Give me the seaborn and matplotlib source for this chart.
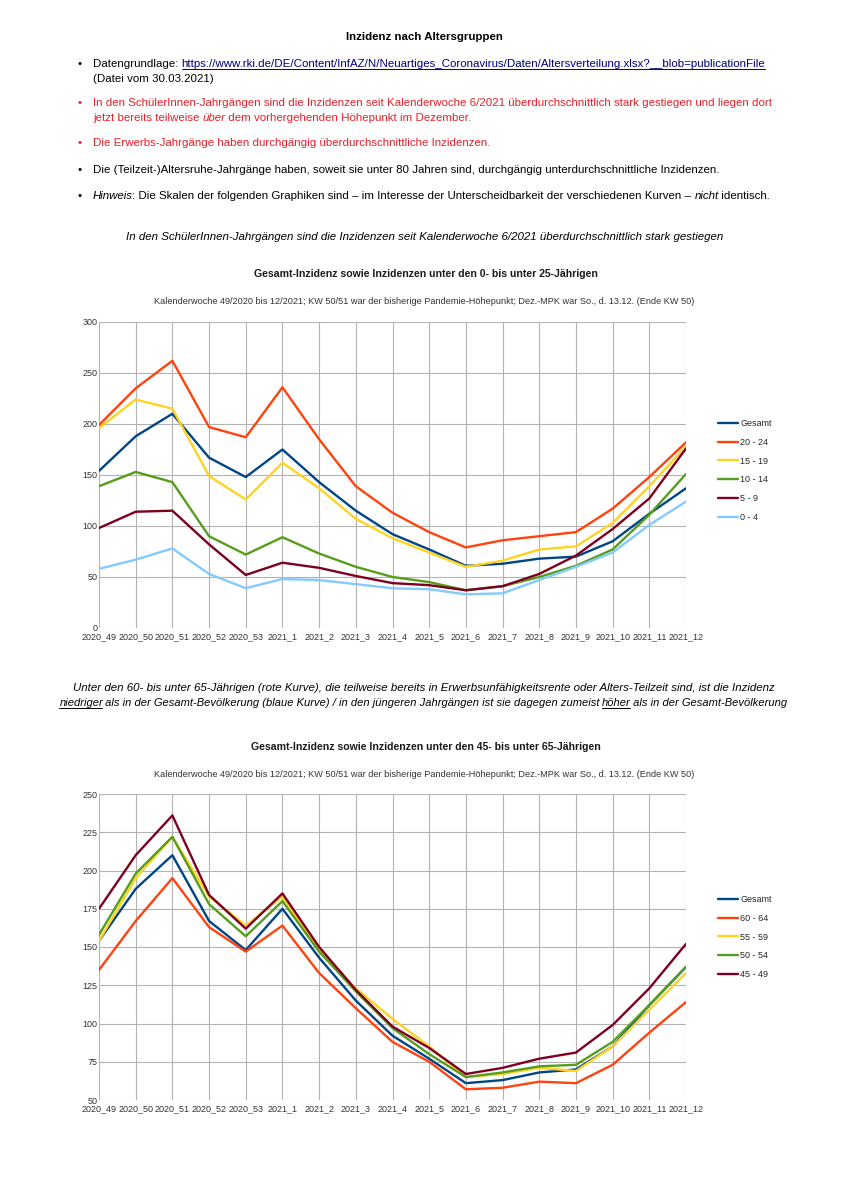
import numpy as np
import pandas as pd
import matplotlib
matplotlib.use('Agg')
import matplotlib.pyplot as plt
from matplotlib.lines import Line2D
import seaborn as sns

W, H = 848, 1199

weeks = ['2020_49', '2020_50', '2020_51', '2020_52', '2020_53', '2021_1', '2021_2',
         '2021_3', '2021_4', '2021_5', '2021_6', '2021_7', '2021_8', '2021_9',
         '2021_10', '2021_11', '2021_12']

# Gesamt-Inzidenz (same in both charts)
gesamt = [154, 188, 210, 167, 148, 175, 143, 115, 92, 77, 61, 63, 68, 70, 85, 112, 137]

# chart 1: 0 to under 25
age_20_24 = [199, 235, 262, 197, 187, 236, 185, 139, 113, 94, 79, 86, 90, 94, 117, 148, 182]
age_15_19 = [196, 224, 215, 149, 126, 162, 137, 107, 88, 74, 60, 66, 77, 80, 103, 139, 178]
age_10_14 = [139, 153, 143, 90, 72, 89, 73, 60, 50, 45, 37, 41, 50, 61, 77, 111, 151]
age_5_9 = [98, 114, 115, 82, 52, 64, 59, 51, 44, 42, 37, 41, 53, 71, 97, 127, 176]
age_0_4 = [58, 67, 78, 53, 39, 48, 47, 43, 39, 38, 33, 34, 47, 60, 74, 101, 124]

# chart 2: 45 to under 65
age_60_64 = [135, 167, 195, 163, 147, 164, 133, 110, 88, 75, 57, 58, 62, 61, 73, 94, 114]
age_55_59 = [154, 195, 222, 183, 164, 183, 148, 123, 103, 85, 65, 67, 71, 69, 85, 109, 133]
age_50_54 = [158, 198, 222, 178, 157, 180, 147, 121, 97, 80, 65, 68, 72, 73, 88, 112, 137]
age_45_49 = [175, 210, 236, 184, 162, 185, 150, 122, 98, 84, 67, 71, 77, 81, 99, 123, 152]

# LibreOffice default chart palette
C_BLUE, C_RED, C_YEL, C_GRN, C_MAR, C_LBL = '#004586', '#ff420e', '#ffd320', '#579d1c', '#7e0021', '#83caff'
TXT_RED = '#e8202a'
BODY = 8.28

sns.set_theme(style='whitegrid')
plt.rcParams['font.family'] = ['Liberation Sans', 'DejaVu Sans']

fig = plt.figure(figsize=(W / 100, H / 100), dpi=100)
fig.patch.set_facecolor('white')
renderer = fig.canvas.get_renderer()

_bar_cache = {}


def text_width(s, size, style, weight):
    # measure with sentinels so leading/trailing spaces count
    key = (size, style, weight)
    if key not in _bar_cache:
        t = fig.text(0, 0, '||', fontsize=size, style=style, weight=weight)
        _bar_cache[key] = t.get_window_extent(renderer).width
        t.remove()
    t = fig.text(0, 0, '|' + s + '|', fontsize=size, style=style, weight=weight)
    w = t.get_window_extent(renderer).width
    t.remove()
    w = w - _bar_cache[key]
    if style == 'italic':
        w -= 0.8
    return w


def write_line(x, y, segments, size=BODY, center=False, color='black'):
    """segments: list of (text, opts); y is the text centre in page pixels"""
    base = y + size * 0.5
    widths = []
    for s, o in segments:
        widths.append(text_width(s, size, o.get('style', 'normal'), o.get('weight', 'normal')))
    if center:
        x = x - sum(widths) / 2
    for (s, o), w in zip(segments, widths):
        col = o.get('color', color)
        fig.text(x / W, 1 - base / H, s, fontsize=size, color=col,
                 style=o.get('style', 'normal'), weight=o.get('weight', 'normal'),
                 ha='left', va='baseline')
        if o.get('underline'):
            uy = 1 - (base + 2.3) / H
            fig.add_artist(Line2D([x / W, (x + w) / W], [uy, uy], color=col, lw=0.7))
        x += w


def bullet(y, color='black'):
    fig.text(78 / W, 1 - (y + BODY * 0.5) / H, '•', fontsize=BODY, color=color, va='baseline')


N = {}
I = {'style': 'italic'}
R = {'color': TXT_RED}

write_line(424, 36, [('Inzidenz nach Altersgruppen', {'weight': 'bold'})], center=True)

bullet(63)
write_line(93, 63, [('Datengrundlage: ', N),
                    ('https://www.rki.de/DE/Content/InfAZ/N/Neuartiges_Coronavirus/Daten/Altersverteilung.xlsx?__blob=publicationFile',
                     {'color': '#000080', 'underline': True})])
write_line(93, 78, [('(Datei vom 30.03.2021)', N)])

bullet(102, TXT_RED)
write_line(93, 102, [('In den SchülerInnen-Jahrgängen sind die Inzidenzen seit Kalenderwoche 6/2021 '
                      'überdurchschnittlich stark gestiegen und liegen dort', R)])
write_line(93, 117, [('jetzt bereits teilweise ', R), ('über', {'color': TXT_RED, 'style': 'italic'}),
                     (' dem vorhergehenden Höhepunkt im Dezember.', R)])

bullet(142, TXT_RED)
write_line(93, 142, [('Die Erwerbs-Jahrgänge haben durchgängig überdurchschnittliche Inzidenzen.', R)])

bullet(169)
write_line(93, 169, [('Die (Teilzeit-)Altersruhe-Jahrgänge haben, soweit sie unter 80 Jahren sind, '
                      'durchgängig unterdurchschnittliche Inzidenzen.', N)])

bullet(195)
write_line(93, 195, [('Hinweis', I),
                     (': Die Skalen der folgenden Graphiken sind – im Interesse der Unterscheidbarkeit '
                      'der verschiedenen Kurven – ', N),
                     ('nicht', I), (' identisch.', N)])

write_line(424, 236, [('In den SchülerInnen-Jahrgängen sind die Inzidenzen seit Kalenderwoche 6/2021 '
                       'überdurchschnittlich stark gestiegen', I)], center=True)

write_line(423, 687, [('Unter den 60- bis unter 65-Jährigen (rote Kurve), die teilweise bereits in '
                       'Erwerbsunfähigkeitsrente oder Alters-Teilzeit sind, ist die Inzidenz', I)],
           size=8.28, center=True)
write_line(423, 702, [('niedriger', {'style': 'italic', 'underline': True}),
                      (' als in der Gesamt-Bevölkerung (blaue Kurve) / in den jüngeren Jahrgängen ist sie '
                       'dagegen zumeist ', I),
                      ('höher', {'style': 'italic', 'underline': True}),
                      (' als in der Gesamt-Bevölkerung', I)], size=8.0, center=True)

SUB = 'Kalenderwoche 49/2020 bis 12/2021; KW 50/51 war der bisherige Pandemie-Höhepunkt; Dez.-MPK war So., d. 13.12. (Ende KW 50)'


def draw_chart(top, names, values, colors, ymin, ymax, ystep, title, title_y, legend_top):
    write_line(426, title_y, [(title, {'weight': 'bold'})], size=7.6, center=True, color='#1a1a1a')
    write_line(424, title_y + 28, [(SUB, N)], size=6.6, center=True, color='#333333')

    ax = fig.add_axes([99 / W, 1 - (top + 306) / H, 587 / W, 306 / H])
    df = pd.DataFrame({
        'idx': np.tile(np.arange(len(weeks)), len(names)),
        'value': np.concatenate(values),
        'series': np.repeat(names, len(weeks)),
    })
    sns.lineplot(data=df, x='idx', y='value', hue='series', hue_order=names,
                 palette=dict(zip(names, colors)), linewidth=1.7, ax=ax, legend=False)
    ax.set_xlim(0, len(weeks) - 1)
    ax.set_ylim(ymin, ymax)
    ax.set_xticks(range(len(weeks)))
    ax.set_xticklabels(weeks)
    ax.set_yticks(np.arange(ymin, ymax + 1, ystep))
    ax.set_xlabel('')
    ax.set_ylabel('')
    ax.grid(True, color='#b3b3b3', linewidth=0.8)
    for sp in ax.spines.values():
        sp.set_visible(False)
    ax.tick_params(axis='x', length=0, labelsize=6.5, colors='#333333', pad=3)
    ax.tick_params(axis='y', length=0, labelsize=6.5, colors='#333333', pad=1)

    handles = [Line2D([0], [0], color=c, lw=1.7) for c in colors]
    fig.legend(handles, names, loc='upper left', bbox_to_anchor=(718 / W, 1 - legend_top / H),
               frameon=False, fontsize=6.5, handlelength=2.2, handletextpad=0.25,
               labelspacing=1.08, borderaxespad=0, borderpad=0)
    return ax


draw_chart(322,
           ['Gesamt', '20 - 24', '15 - 19', '10 - 14', '5 - 9', '0 - 4'],
           [gesamt, age_20_24, age_15_19, age_10_14, age_5_9, age_0_4],
           [C_BLUE, C_RED, C_YEL, C_GRN, C_MAR, C_LBL],
           0, 300, 50,
           'Gesamt-Inzidenz sowie Inzidenzen unter den 0- bis unter 25-Jährigen', 273, 419)

draw_chart(794,
           ['Gesamt', '60 - 64', '55 - 59', '50 - 54', '45 - 49'],
           [gesamt, age_60_64, age_55_59, age_50_54, age_45_49],
           [C_BLUE, C_RED, C_YEL, C_GRN, C_MAR],
           50, 250, 25,
           'Gesamt-Inzidenz sowie Inzidenzen unter den 45- bis unter 65-Jährigen', 746, 895)

fig.savefig('out.png', dpi=100, facecolor='white')
